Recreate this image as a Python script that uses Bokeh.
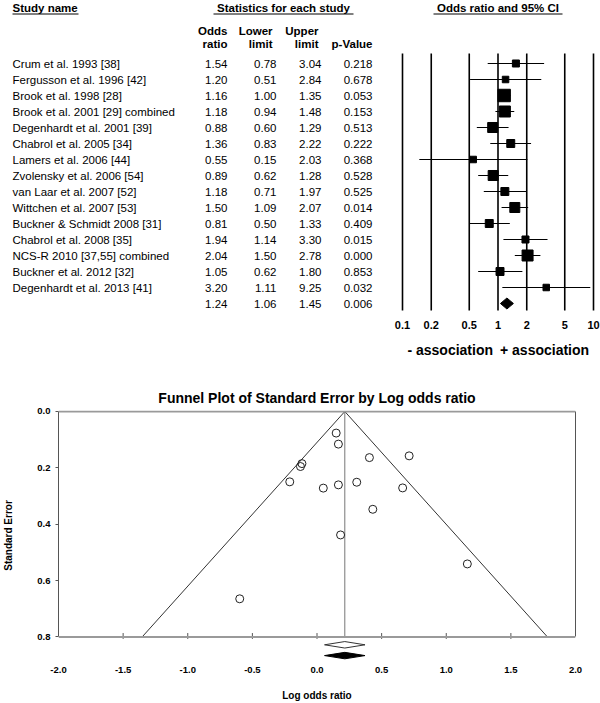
import numpy as np
from bokeh.plotting import figure
from bokeh.models import (Range1d, LogScale, FixedTicker, NumeralTickFormatter,
                          LinearAxis, Span, Title)
from bokeh.layouts import column
from bokeh.embed import file_html
from bokeh.resources import INLINE
from bokeh.core.properties import value

# ---------------- data ----------------
studies = [
    "Crum et al. 1993 [38]",
    "Fergusson et al. 1996 [42]",
    "Brook et al. 1998 [28]",
    "Brook et al. 2001 [29] combined",
    "Degenhardt et al. 2001 [39]",
    "Chabrol et al. 2005 [34]",
    "Lamers et al. 2006 [44]",
    "Zvolensky et al. 2006 [54]",
    "van Laar et al. 2007 [52]",
    "Wittchen et al. 2007 [53]",
    "Buckner & Schmidt 2008 [31]",
    "Chabrol et al. 2008 [35]",
    "NCS-R 2010 [37,55] combined",
    "Buckner et al. 2012 [32]",
    "Degenhardt et al. 2013 [41]",
]
odds_ratio = [1.54, 1.20, 1.16, 1.18, 0.88, 1.36, 0.55, 0.89, 1.18, 1.50, 0.81, 1.94, 2.04, 1.05, 3.20]
lower_limit = [0.78, 0.51, 1.00, 0.94, 0.60, 0.83, 0.15, 0.62, 0.71, 1.09, 0.50, 1.14, 1.50, 0.62, 1.11]
upper_limit = [3.04, 2.84, 1.35, 1.48, 1.29, 2.22, 2.03, 1.28, 1.97, 2.07, 1.33, 3.30, 2.78, 1.80, 9.25]
p_values = ["0.218", "0.678", "0.053", "0.153", "0.513", "0.222", "0.368", "0.528",
            "0.525", "0.014", "0.409", "0.015", "0.000", "0.853", "0.032"]
rel_weight = [4.2, 3.6, 13.2, 10.3, 8.5, 5.4, 3.6, 8.5, 5.4, 8.5, 5.4, 4.2, 10.3, 5.4, 3.6]
summary_or = 1.24
summary_lower = 1.06
summary_upper = 1.45
summary_p = "0.006"

forest_ticks = [0.1, 0.2, 0.5, 1, 2, 5, 10]
forest_tick_labels = ["0.1", "0.2", "0.5", "1", "2", "5", "10"]
funnel_x_ticks = [-2.0, -1.5, -1.0, -0.5, 0.0, 0.5, 1.0, 1.5, 2.0]
funnel_y_ticks = [0.0, 0.2, 0.4, 0.6, 0.8]

# ---------------- styling / layout ----------------
FONT = "Liberation Sans"
W = 600
TOP_H = 362
ROW0 = 63.0
ROW_STEP = 16.0


def idx(px):
    return (px - ROW0) / ROW_STEP


n = len(studies)
rows = list(range(n))
all_rows = rows + [n]

top = figure(width=W, height=TOP_H, x_range=Range1d(0, W),
             y_range=Range1d(idx(TOP_H), idx(0)),
             output_backend="svg", toolbar_location=None, min_border=0,
             x_axis_location=None, y_axis_location=None, frame_align=False)
top.outline_line_color = None
top.grid.visible = False

LOG_X0, LOG_X10 = 402.0, 593.0
dec = (LOG_X10 - LOG_X0) / 2.0
top.extra_x_ranges = {"log": Range1d(10 ** (-1 - LOG_X0 / dec), 10 ** (1 + (W - LOG_X10) / dec))}
top.extra_x_scales = {"log": LogScale()}

txt = dict(text_font=value(FONT), text_font_size="11.5px", text_baseline="middle", text_color="#000000")
bold = dict(txt, text_font_style="bold")

# headers
top.text(x=[12], y=[idx(7)], text=["Study name"], text_align="left", **bold)
top.text(x=[283], y=[idx(7)], text=["Statistics for each study"], text_align="center", **bold)
top.text(x=[1], y=[idx(7)], text=["Odds ratio and 95% CI"], text_align="center",
         x_range_name="log", **bold)
ul_y = idx(13.5)
top.segment(x0=[12, 213, 433], y0=[ul_y] * 3, x1=[78, 353, 562], y1=[ul_y] * 3,
            line_color="#000000", line_width=1)

col_right = [227, 276, 321, 372]
head_right = [227, 272, 318, 372]
top.text(x=head_right, y=[idx(30)] * 4, text=["Odds", "Lower", "Upper", ""], text_align="right", **bold)
top.text(x=head_right, y=[idx(43)] * 4, text=["ratio", "limit", "limit", "p-Value"], text_align="right", **bold)

# table body
top.text(x=12, y=rows, text=studies, text_align="left", **txt)
top.text(x=col_right[0], y=all_rows, text=[f"{v:.2f}" for v in odds_ratio + [summary_or]], text_align="right", **txt)
top.text(x=col_right[1], y=all_rows, text=[f"{v:.2f}" for v in lower_limit + [summary_lower]], text_align="right", **txt)
top.text(x=col_right[2], y=all_rows, text=[f"{v:.2f}" for v in upper_limit + [summary_upper]], text_align="right", **txt)
top.text(x=col_right[3], y=all_rows, text=p_values + [summary_p], text_align="right", **txt)

# forest plot
top.segment(x0=forest_ticks, y0=idx(53), x1=forest_ticks, y1=idx(310),
            x_range_name="log", line_color="#000000", line_width=1.6)
top.segment(x0=lower_limit, y0=rows, x1=upper_limit, y1=rows,
            x_range_name="log", line_color="#000000", line_width=1)
sizes = [3.43 * np.sqrt(w) for w in rel_weight]
top.scatter(x=odds_ratio, y=rows, size=sizes, marker="square",
            fill_color="#000000", line_color="#000000", x_range_name="log")
dh = 5.5 / ROW_STEP
top.patch(x=[summary_lower, summary_or, summary_upper, summary_or],
          y=[n, n - dh, n, n + dh], fill_color="#000000", line_color="#000000",
          x_range_name="log")
top.text(x=forest_ticks, y=idx(324), text=forest_tick_labels, text_align="center",
         x_range_name="log", **dict(bold, text_font_size="11px"))
top.text(x=[1], y=[idx(349)], text=["- association"], text_align="right", x_offset=-5,
         x_range_name="log", **dict(bold, text_font_size="14px"))
top.text(x=[1], y=[idx(349)], text=["+ association"], text_align="left", x_offset=2,
         x_range_name="log", **dict(bold, text_font_size="14px"))

# ---------------- funnel plot ----------------
log_or = np.log(odds_ratio)
se = (np.log(upper_limit) - np.log(lower_limit)) / (2 * 1.96)
center = np.log(summary_or)
se_max = funnel_y_ticks[-1]

FUN_H = 703 - TOP_H
PX_PER_SE = 287.5
fun = figure(width=W, height=FUN_H, x_range=Range1d(-2, 2), y_range=Range1d(0.8835, -0.0035),
             output_backend="svg", toolbar_location=None, frame_align=False,
             min_border_left=55, min_border_right=25, min_border_top=48, min_border_bottom=38)
fun.outline_line_color = None
fun.grid.visible = False
fun.title = Title(text="Funnel Plot of Standard Error by Log odds ratio", align="center",
                  text_font=FONT, text_font_size="14px", text_font_style="bold",
                  text_color="#000000", standoff=10)

xa = fun.xaxis[0]
xa.ticker = FixedTicker(ticks=funnel_x_ticks)
xa.formatter = NumeralTickFormatter(format="0.0")
xa.axis_line_color = None
xa.major_tick_line_color = None
xa.minor_tick_line_color = None
xa.major_label_standoff = 0
xa.major_label_text_font = FONT
xa.major_label_text_font_size = "9.5px"
xa.major_label_text_font_style = "bold"
xa.major_label_text_color = "#000000"
xa.axis_label = "Log odds ratio"
xa.axis_label_text_font = FONT
xa.axis_label_text_font_size = "10px"
xa.axis_label_text_font_style = "bold"
xa.axis_label_text_color = "#000000"
xa.axis_label_standoff = 14

ya = fun.yaxis[0]
ya.ticker = FixedTicker(ticks=funnel_y_ticks)
ya.formatter = NumeralTickFormatter(format="0.0")
ya.bounds = (0, se_max)
ya.axis_line_color = "#555555"
ya.major_tick_line_color = "#555555"
ya.major_tick_out = 3
ya.major_tick_in = 0
ya.minor_tick_line_color = None
ya.major_label_standoff = 5
ya.major_label_text_font = FONT
ya.major_label_text_font_size = "9.5px"
ya.major_label_text_font_style = "bold"
ya.major_label_text_color = "#000000"
ya.axis_label = "Standard Error"
ya.axis_label_text_font = FONT
ya.axis_label_text_font_size = "10px"
ya.axis_label_text_font_style = "bold"
ya.axis_label_text_color = "#000000"
ya.axis_label_standoff = 20

ra = LinearAxis(bounds=(0, se_max), ticker=FixedTicker(ticks=[]), axis_line_color="#555555",
                major_tick_line_color=None, minor_tick_line_color=None,
                major_label_text_font_size="0px")
fun.add_layout(ra, "right")

fun.add_layout(Span(location=0, dimension="width", line_color="#9a9a9a", line_width=2))
fun.add_layout(Span(location=se_max, dimension="width", line_color="#9a9a9a", line_width=2))
tick_up = 4 / PX_PER_SE
tick_dn = 2 / PX_PER_SE
fun.segment(x0=funnel_x_ticks[1:-1], y0=se_max - tick_up, x1=funnel_x_ticks[1:-1], y1=se_max + tick_dn,
            line_color="#555555", line_width=1)

fun.segment(x0=[center], y0=[0], x1=[center], y1=[se_max], line_color="#777777", line_width=1)
fun.line(x=[center - 1.96 * se_max, center, center + 1.96 * se_max], y=[se_max, 0, se_max],
         line_color="#333333", line_width=1)
fun.scatter(x=log_or, y=se, marker="circle", size=8, fill_color=None,
            line_color="#222222", line_width=1)

lo_s, hi_s = np.log(summary_lower), np.log(summary_upper)
dd = 3.3 / PX_PER_SE
d_obs = se_max + 8 / PX_PER_SE
d_imp = se_max + 19 / PX_PER_SE
fun.patch(x=[lo_s, center, hi_s, center], y=[d_obs, d_obs - dd, d_obs, d_obs + dd],
          fill_color="#ffffff", line_color="#333333", line_width=1)
fun.patch(x=[lo_s, center, hi_s, center], y=[d_imp, d_imp - dd, d_imp, d_imp + dd],
          fill_color="#000000", line_color="#000000", line_width=1)

layout = column(top, fun, spacing=0)
open("out.html", "w").write(file_html(layout, INLINE))
